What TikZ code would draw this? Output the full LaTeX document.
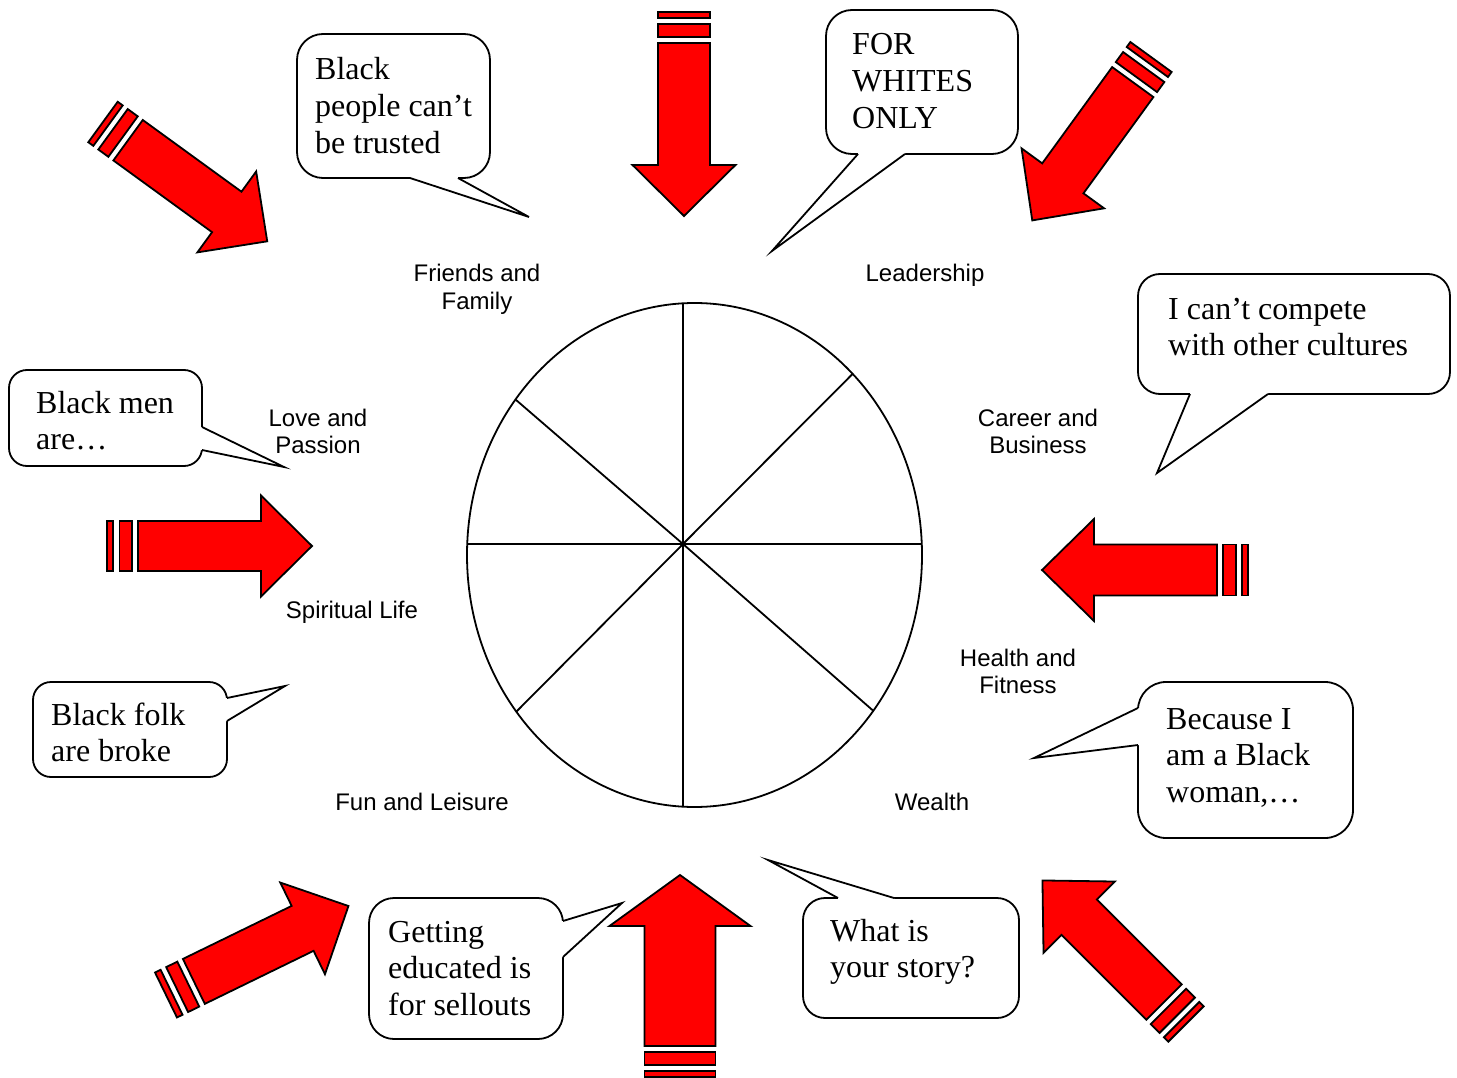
\documentclass[tikz,border=0pt]{standalone}
\usepackage{fontspec}
\setmainfont{Liberation Serif}
\newfontfamily\arialfont{Liberation Sans}
\definecolor{arrowred}{RGB}{255,0,0}
\newcommand\stripedarrow[7]{%
  \begin{scope}[shift={(#1,#2)},rotate=#3]
    \draw[arrowshape] (0,-#5) rectangle (6.2,#5);
    \draw[arrowshape] (12.4,-#5) rectangle (24.8,#5);
    \draw[arrowshape] (31,-#5) -- ({#4-#7},-#5) -- ({#4-#7},-#6) -- (#4,0)
      -- ({#4-#7},#6) -- ({#4-#7},#5) -- (31,#5) -- cycle;
  \end{scope}}
\newcommand\bubbletail[5]{%
  \fill[white] #1 -- #2 -- #3 -- #5 -- #4 -- cycle;
  \draw[bubbleline] #1 -- #2 -- #3;}
\begin{document}
\begin{tikzpicture}[x=1pt,y=-1pt,
  arrowshape/.style={fill=arrowred,draw=black,line width=1.8pt,line join=miter},
  bubblebox/.style={draw=black,fill=white,line width=1.8pt,rectangle,inner sep=0pt,outer sep=0pt,anchor=north west},
  bubbleline/.style={draw=black,line width=1.8pt,line join=miter},
  bubbletext/.style={font=\fontsize{32}{36.8}\selectfont,inner sep=0pt,anchor=base west},
  areatext/.style={font=\arialfont\fontsize{24}{27.6}\selectfont,inner sep=0pt,anchor=base},
  wheel/.style={draw=black,line width=1.8pt}]
\useasboundingbox (0,0) rectangle (1457,1078);

% ---- striped arrows ----
\stripedarrow{103}{122}{-36}{203}{25}{50}{50}
\stripedarrow{684}{12}{-90}{204}{26}{51.5}{51}
\stripedarrow{1151}{57}{-126}{202}{25.5}{51}{52}
\stripedarrow{107}{546}{0}{205}{25}{50.5}{51}
\stripedarrow{1248}{570}{180}{206}{25.5}{51}{52}
\stripedarrow{166}{995}{26}{203}{25}{51}{51}
\stripedarrow{680}{1077}{90}{202}{35.5}{70.5}{51}
\stripedarrow{1186}{1024}{135}{203}{25}{50.5}{52}

% ---- wheel ----
\coordinate (c) at (683,544);
\coordinate (w1) at (683,303.3);
\coordinate (w2) at (852.5,374);
\coordinate (w3) at (921.8,544);
\coordinate (w4) at (873.5,711);
\coordinate (w5) at (683,806.7);
\coordinate (w6) at (516,712);
\coordinate (w7) at (467.2,544);
\coordinate (w8) at (515.5,399.5);
\draw[wheel] (694.5,555) ellipse [x radius=227.5pt, y radius=252pt];
\foreach \i in {1,...,8} \draw[wheel] (c) -- (w\i);

% ---- area labels ----
\node[areatext] (friends) at (477,282) {\begin{tabular}[t]{@{}c@{}}Friends and\\Family\end{tabular}};
\node[areatext] (leader) at (925,282) {Leadership};
\node[areatext] (love) at (318,426) {\begin{tabular}[t]{@{}c@{}}Love and\\Passion\end{tabular}};
\node[areatext] (career) at (1038,426) {\begin{tabular}[t]{@{}c@{}}Career and\\Business\end{tabular}};
\node[areatext] (spirit) at (352,618) {Spiritual Life};
\node[areatext] (health) at (1018,666) {\begin{tabular}[t]{@{}c@{}}Health and\\Fitness\end{tabular}};
\node[areatext] (fun) at (422,810) {Fun and Leisure};
\node[areatext] (wealth) at (932,810) {Wealth};

% ---- callout bubbles ----
\node[bubblebox,rounded corners=26pt,minimum width=193pt,minimum height=144pt] (b1) at (297,34) {};
\bubbletail{(410,178)}{(529,217)}{(458,178)}{(410,174)}{(458,174)}
\node[bubblebox,rounded corners=26pt,minimum width=192pt,minimum height=144pt] (b2) at (826,10) {};
\bubbletail{(858,154)}{(772,251)}{(905,154)}{(858,150)}{(905,150)}
\node[bubblebox,rounded corners=22pt,minimum width=312pt,minimum height=120pt] (b3) at (1138,274) {};
\bubbletail{(1190,394)}{(1157,473)}{(1268,394)}{(1190,390)}{(1268,390)}
\node[bubblebox,rounded corners=18pt,minimum width=193pt,minimum height=96pt] (b4) at (9,370) {};
\bubbletail{(202,427)}{(284,467)}{(202,450)}{(198,427)}{(198,450)}
\node[bubblebox,rounded corners=18pt,minimum width=194pt,minimum height=95pt] (b5) at (33,682) {};
\bubbletail{(227,698)}{(285,686)}{(227,721)}{(223,698)}{(223,721)}
\node[bubblebox,rounded corners=25pt,minimum width=194pt,minimum height=141pt] (b6) at (369,898) {};
\bubbletail{(563,921)}{(622,903)}{(563,957)}{(559,921)}{(559,957)}
\node[bubblebox,rounded corners=22pt,minimum width=216pt,minimum height=120pt] (b7) at (803,898) {};
\bubbletail{(894,898)}{(768,860)}{(838,898)}{(894,902)}{(838,902)}
\node[bubblebox,rounded corners=28pt,minimum width=215pt,minimum height=156pt] (b8) at (1138,682) {};
\bubbletail{(1138,708)}{(1034,758)}{(1138,745)}{(1142,708)}{(1142,745)}

% ---- bubble texts ----
\node[bubbletext] (t1) at (315,80) {\begin{tabular}[t]{@{}l@{}}Black\\people can’t\\be trusted\end{tabular}};
\node[bubbletext] (t2) at (852,55) {\begin{tabular}[t]{@{}l@{}}FOR\\WHITES\\ONLY\end{tabular}};
\node[bubbletext] (t3) at (1168,319) {\begin{tabular}[t]{@{}l@{}}I can’t compete\\with other cultures\end{tabular}};
\node[bubbletext] (t4) at (36,413) {\begin{tabular}[t]{@{}l@{}}Black men\\are…\end{tabular}};
\node[bubbletext] (t5) at (51,725) {\begin{tabular}[t]{@{}l@{}}Black folk\\are broke\end{tabular}};
\node[bubbletext] (t6) at (388,942) {\begin{tabular}[t]{@{}l@{}}Getting\\educated is\\for sellouts\end{tabular}};
\node[bubbletext] (t7) at (830,941) {\begin{tabular}[t]{@{}l@{}}What is\\your story?\end{tabular}};
\node[bubbletext] (t8) at (1166,729) {\begin{tabular}[t]{@{}l@{}}Because I\\am a Black\\woman,…\end{tabular}};
\end{tikzpicture}
\end{document}
